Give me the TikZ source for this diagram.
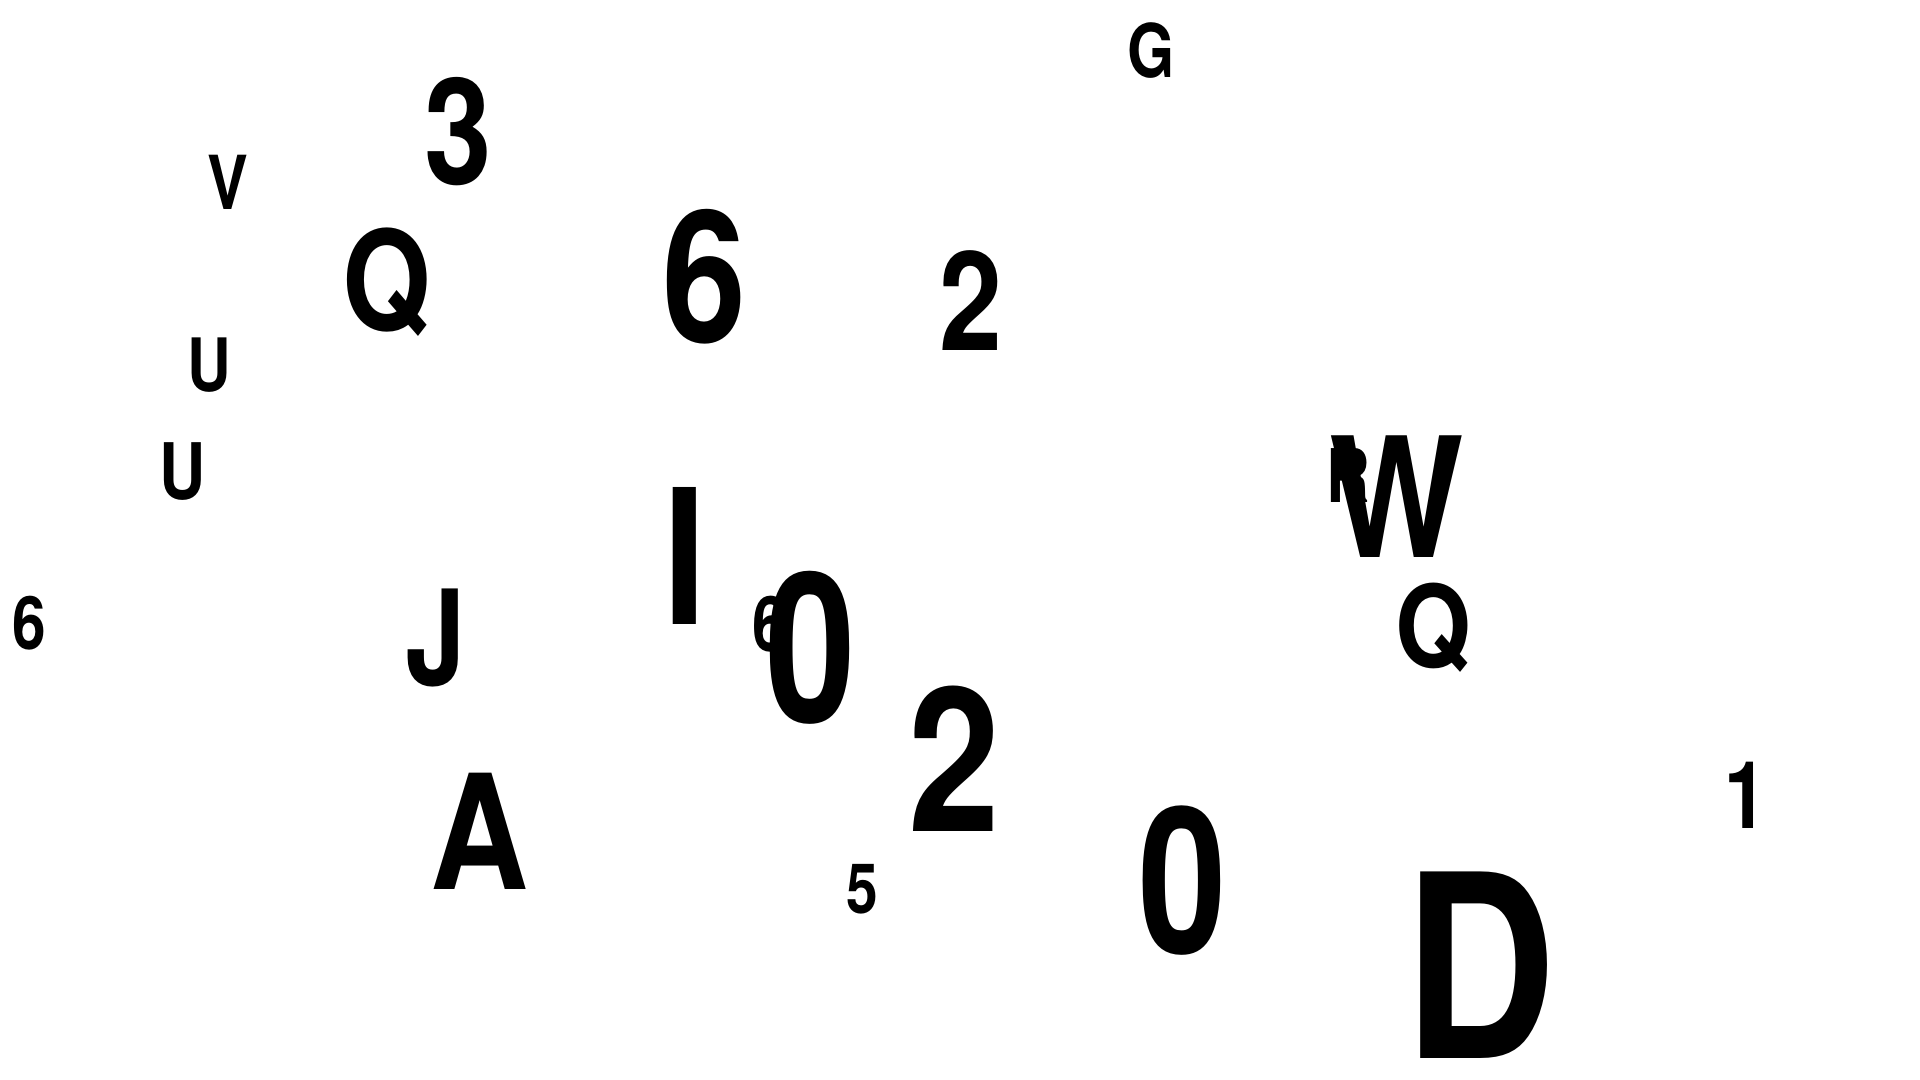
\documentclass[tikz,border=0pt]{standalone}
\usepackage{fontspec}
\newfontfamily\nf{TeX Gyre Heros}[FakeStretch=0.82]
\newcommand\nz[1]{\scalebox{0.95}[1]{#1}}
\newcommand\nw[1]{\scalebox{1.04}[1]{#1}}
\tikzset{
  g/.style={inner sep=0pt, outer sep=0pt, anchor=base, text=black,
    font=\nf\bfseries\fontsize{#1}{#1}\selectfont}
}
\begin{document}
\begin{tikzpicture}[x=0.995pt,y=-0.995pt]
\path[fill=white] (0,0) rectangle (1929.6,1085.4);
\useasboundingbox (0,0) rectangle (1929.6,1085.4);
\node[g=74]  (gG)  at (1157,78) {G};
\node[g=148] (g3)  at (461,185) {3};
\node[g=74.5] (gV) at (229.5,210.5) {V};
\node[g=138.5] (gQa) at (388.5,332) {Q};
\node[g=184] (g6a) at (707.5,344) {6};
\node[g=138] (g2a) at (975.5,352) {2};
\node[g=73.6] (gUa) at (210,393) {U};
\node[g=78]  (gUb) at (183.4,502) {U};
\node[g=188] (gI)  at (688,627.7) {I};
\node[g=74]  (gR)  at (1355,504.6) {R};
\node[g=167] (gW)  at (1404,560) {\nw{W}};
\node[g=73.7] (g6b) at (29,652.5) {6};
\node[g=132.5] (gJ) at (437.5,689) {J};
\node[g=76.5] (g6c) at (773.5,654.5) {6};
\node[g=209] (g0a) at (814.5,726) {\nz{0}};
\node[g=114] (gQb) at (1440.6,671) {\nw{Q}};
\node[g=201] (g2b) at (959.5,835.7) {2};
\node[g=93.6] (g1) at (1755,833) {1};
\node[g=159.6] (gA) at (482,893.5) {\nw{A}};
\node[g=69.3] (g5)  at (866.5,918) {5};
\node[g=204] (g0b) at (1188.5,958) {\nz{0}};
\node[g=256] (gD)  at (1488,1063.5) {D};
\end{tikzpicture}
\end{document}
